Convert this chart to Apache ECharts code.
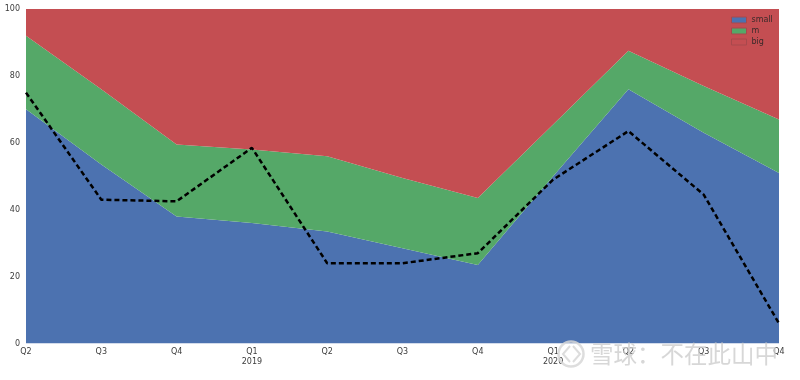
<!DOCTYPE html>
<html>
<head>
<meta charset="utf-8">
<style>
html, body { margin: 0; padding: 0; background: #fff; }
#chart { width: 800px; height: 380px; }
</style>
<script src="https://cdn.jsdelivr.net/npm/echarts@6/dist/echarts.min.js"></script>
</head>
<body>
<div id="chart"></div>
<script>
var categories = ["Q2", "Q3", "Q4", "Q1\n2019", "Q2", "Q3", "Q4", "Q1\n2020", "Q2", "Q3", "Q4"];
var small = [70, 53.5, 38, 36, 33.5, 28.5, 23.5, 50, 76, 63, 51];
var m = [22, 22.5, 21.5, 22, 22.5, 21, 20, 15.5, 11.5, 14, 16];
var big = [8, 24, 40.5, 42, 44, 50.5, 56.5, 34.5, 12.5, 23, 33];
var dashed = [75, 43, 42.5, 58.5, 24, 24, 27, 49, 63.5, 44.5, 6];
var yTicks = [0, 20, 40, 60, 80, 100];

var FONT = '"DejaVu Sans", sans-serif';
var WATERMARK = 'rgba(215,215,215,0.85)';

function areaSeries(name, data, color) {
    return {
        name: name,
        type: 'line',
        stack: 'share',
        data: data,
        symbol: 'none',
        lineStyle: { width: 0 },
        itemStyle: { color: color, borderColor: color },
        areaStyle: { color: color, opacity: 1 }
    };
}

function legendItem(name, color) {
    return { name: name, icon: 'rect', itemStyle: { color: color, borderColor: '#a8484c', borderWidth: 1 } };
}

var chart = echarts.init(document.getElementById('chart'));
chart.setOption({
    animation: false,
    backgroundColor: '#fff',
    grid: { left: 26, right: 21, top: 9, bottom: 36.5 },
    legend: {
        orient: 'vertical',
        top: 11,
        left: 726,
        itemWidth: 15,
        itemHeight: 6,
        itemGap: 3,
        data: [legendItem('small', '#4C72B0'), legendItem('m', '#55A868'), legendItem('big', '#C44E52')],
        textStyle: { fontFamily: FONT, fontSize: 8, color: '#3a2a2a' }
    },
    xAxis: {
        type: 'category',
        boundaryGap: false,
        data: categories,
        axisLine: { show: false },
        axisTick: { show: false },
        splitLine: { show: false },
        axisLabel: {
            interval: 0,
            margin: 3,
            fontFamily: FONT,
            fontSize: 8,
            lineHeight: 10,
            color: '#3c3c3c',
            verticalAlign: 'top',
            hideOverlap: false,
            showMinLabel: true,
            showMaxLabel: true
        }
    },
    yAxis: {
        type: 'value',
        min: yTicks[0],
        max: yTicks[yTicks.length - 1],
        interval: 20,
        axisLine: { show: false },
        axisTick: { show: false },
        splitLine: { show: false },
        axisLabel: { margin: 6, fontFamily: FONT, fontSize: 8, color: '#3c3c3c' }
    },
    series: [
        areaSeries('small', small, '#4C72B0'),
        areaSeries('m', m, '#55A868'),
        areaSeries('big', big, '#C44E52'),
        {
            name: 'line',
            type: 'line',
            data: dashed,
            symbol: 'none',
            z: 5,
            lineStyle: { color: '#000', width: 2.5, type: [5, 3] }
        }
    ],
    graphic: [
        {
            type: 'circle',
            z: 100,
            shape: { cx: 571, cy: 354, r: 12.5 },
            style: { fill: 'none', stroke: WATERMARK, lineWidth: 2.5 }
        },
        {
            type: 'polyline',
            z: 100,
            shape: { points: [[570, 346], [563, 354], [570, 362]] },
            style: { fill: 'none', stroke: WATERMARK, lineWidth: 2 }
        },
        {
            type: 'polyline',
            z: 100,
            shape: { points: [[573, 346], [580, 354], [573, 362]] },
            style: { fill: 'none', stroke: WATERMARK, lineWidth: 2 }
        },
        {
            type: 'text',
            z: 100,
            left: 590,
            top: 342,
            style: {
                text: '雪球：不在此山中',
                fontFamily: '"Noto Sans CJK SC"',
                fontSize: 23.5,
                fill: 'rgba(205,205,205,0.8)'
            }
        }
    ]
});
</script>
</body>
</html>
